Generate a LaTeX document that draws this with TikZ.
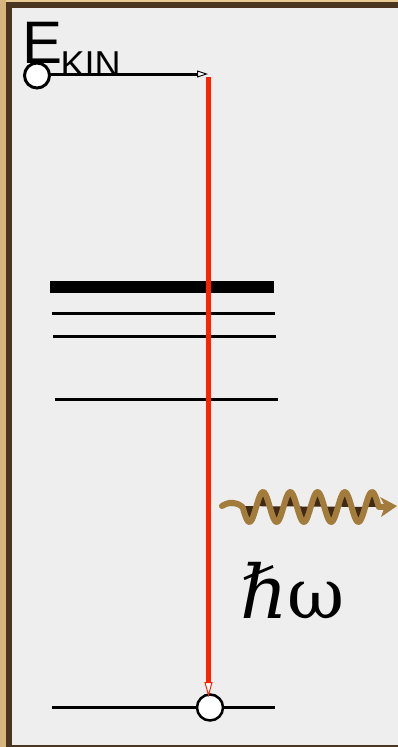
\documentclass[tikz,border=0pt]{standalone}
\usepackage{fontspec}
\setsansfont{Liberation Sans}
\newfontfamily\hbarfont{DejaVu Serif}
\newfontfamily\omegafont{DejaVu Serif}
\usetikzlibrary{arrows.meta}
\definecolor{tanA}{HTML}{D6B67C}
\definecolor{tanTop}{HTML}{E8CB93}
\definecolor{frameDark}{HTML}{4A3520}
\definecolor{panel}{HTML}{EEEEEE}
\definecolor{laser}{HTML}{FF2200}
\definecolor{waveTan}{HTML}{A37B3B}
\definecolor{waveDark}{HTML}{3E2A16}
\tikzset{
  level/.style={line width=3pt, black},
  dot/.style={circle, draw=black, fill=white, inner sep=0pt},
  openTip/.style={-{Triangle[length=11pt,width=7pt,fill=white,line width=1pt]}},
}
\begin{document}
\begin{tikzpicture}[x=1pt,y=-1pt]
\useasboundingbox (0,0) rectangle (398,747);
% frame
\fill[tanA] (0,0) rectangle (398,747);
\fill[tanTop] (6,0) rectangle (398,2);
\fill[frameDark] (6,2) rectangle (398,747);
\fill[panel] (11.5,7.5) rectangle (398,744.5);
% energy levels
\fill[black] (50,281) rectangle (274,293);
\coordinate (l1a) at (52,313); \coordinate (l1b) at (275,313);
\coordinate (l2a) at (53,336); \coordinate (l2b) at (276,336);
\coordinate (l3a) at (55,399); \coordinate (l3b) at (278,399);
\coordinate (l0a) at (52,707.5); \coordinate (l0b) at (275,707.5);
\draw[level] (l1a) -- (l1b);
\draw[level] (l2a) -- (l2b);
\draw[level] (l3a) -- (l3b);
\draw[level] (l0a) -- (l0b);
% bottom electron
\node[dot, line width=2.5pt, minimum size=26pt] (ground) at (210,707.5) {};
% red transition
\coordinate (rtop) at (208.5,77);
\coordinate (rbot) at (208.5,697);
\draw[laser, line width=4.5pt, -{Triangle[length=15pt,width=8pt,fill=white,line width=1pt]}] (rtop) -- (rbot);
% top arrow and electron
\coordinate (ekin) at (37,74);
\coordinate (topend) at (208,74);
\draw[line width=3pt, openTip] (ekin) -- (topend);
\node[dot, line width=3pt, minimum size=25pt] (free) at (37,75.5) {};
% label
\node[anchor=base west, inner sep=0pt, font=\sffamily\fontsize{60}{60}\selectfont] (E) at (22.3,63) {E};
\node[anchor=base west, inner sep=0pt, font=\sffamily\fontsize{36}{36}\selectfont] (kin) at (60.4,76) {KIN};
% photon
\coordinate (wstart) at (222,506);
\coordinate (wend) at (384,507);
\draw[waveTan, fill=waveDark, line width=6pt, line cap=round, line join=round]
  (wstart) .. controls (230,501) and (236,502) .. (242.6,507)
  -- plot[domain=242.6:378.8, samples=120] (\x, {507 - 15*sin(13.211*(\x-256.2))})
  -- (wend);
\fill[waveTan] (380,497) -- (397,506) -- (381,517) -- (385,506) -- cycle;
\node[anchor=base west, inner sep=0pt, font=\fontsize{74}{74}\selectfont] (hw) at (240,618) {{\hbarfont\itshape ℏ}{\omegafont\fontsize{70}{70}\selectfont ω}};
\end{tikzpicture}
\end{document}
